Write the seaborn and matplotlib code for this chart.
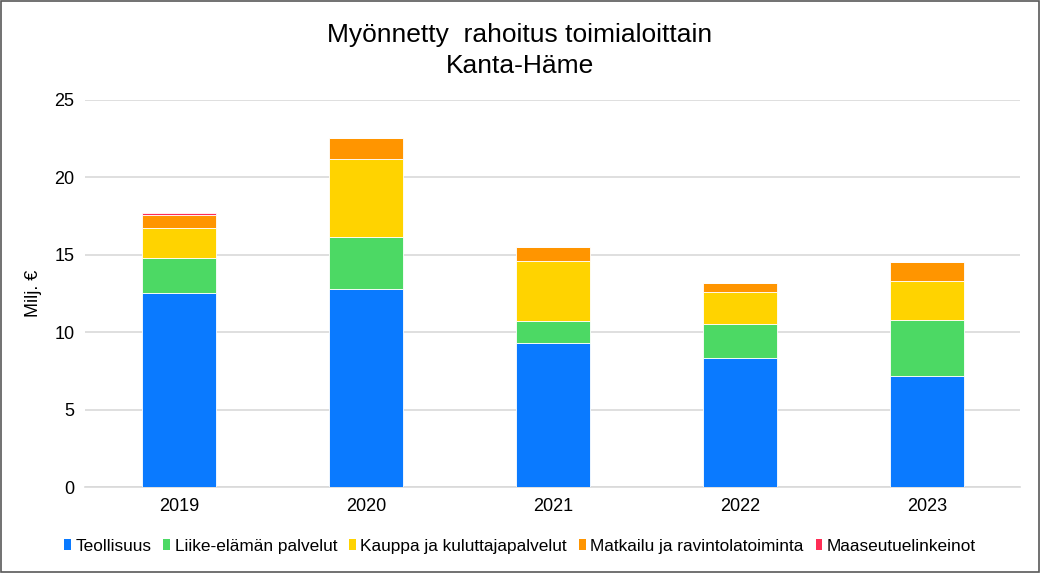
import matplotlib
matplotlib.use("Agg")
import matplotlib.pyplot as plt
import seaborn as sns
import numpy as np
import pandas as pd
from matplotlib.patches import Patch

years = ["2019", "2020", "2021", "2022", "2023"]
series_names = ["Teollisuus", "Liike-elämän palvelut", "Kauppa ja kuluttajapalvelut",
                "Matkailu ja ravintolatoiminta", "Maaseutuelinkeinot"]
teollisuus = [12.55, 12.80, 9.31, 8.36, 7.18]
liike = [2.25, 3.33, 1.43, 2.20, 3.60]
kauppa = [1.95, 5.07, 3.86, 2.07, 2.56]
matkailu = [0.85, 1.35, 0.92, 0.52, 1.19]
maaseutu = [0.12, 0.0, 0.0, 0.0, 0.0]
colors = ["#0A7AFF", "#4CD964", "#FFD300", "#FF9500", "#FF2D55"]

sns.set_theme(style="white")
plt.rcParams['font.family'] = ['Liberation Sans', 'DejaVu Sans']
plt.rcParams['text.color'] = 'black'
plt.rcParams['axes.labelcolor'] = 'black'

fig = plt.figure(figsize=(10.4, 5.73), dpi=100)
ax = fig.add_axes([0.0822, 0.150, 0.899, 0.6755])

all_series = [teollisuus, liike, kauppa, matkailu, maaseutu]
bottom = np.zeros(len(years))
for name, vals, col in zip(series_names, all_series, colors):
    df = pd.DataFrame({"year": years, "value": vals})
    sns.barplot(data=df, x="year", y="value", order=years, color=col,
                bottom=bottom.copy(), width=0.4, ax=ax, saturation=1,
                linewidth=0.6, edgecolor="white", zorder=3)
    bottom += np.array(vals)

ax.set_xlim(-0.5, 4.5)
ax.set_ylim(0, 25)
ax.set_yticks([0, 5, 10, 15, 20, 25])
ax.yaxis.grid(True, color="#D9D9D9", linewidth=1.2, zorder=0)
ax.set_axisbelow(True)
for s in ["top", "right", "left"]:
    ax.spines[s].set_visible(False)
ax.spines["bottom"].set_color("#D9D9D9")
ax.spines["bottom"].set_linewidth(1.2)
ax.tick_params(axis="both", labelsize=13, colors="black", length=0, pad=8)
ax.set_xlabel("")
ax.set_ylabel("Milj. €", fontsize=13, labelpad=9)

fig.text(0.5, 0.939, "Myönnetty  rahoitus toimialoittain", ha="center", va="center", fontsize=19)
fig.text(0.5, 0.885, "Kanta-Häme", ha="center", va="center", fontsize=19)

handles = [Patch(facecolor=c, edgecolor="none") for c in colors]
fig.legend(handles, series_names, loc="center", bbox_to_anchor=(0.5, 0.047), ncol=5,
           frameon=False, fontsize=12.4, handlelength=0.4, handleheight=0.6,
           handletextpad=0.25, columnspacing=0.7)

border = plt.Rectangle((0.001, 0.001), 0.998, 0.998, transform=fig.transFigure,
                       fill=False, edgecolor="#595959", linewidth=1.2)
fig.add_artist(border)

fig.savefig("out.png", dpi=100, facecolor="white")
